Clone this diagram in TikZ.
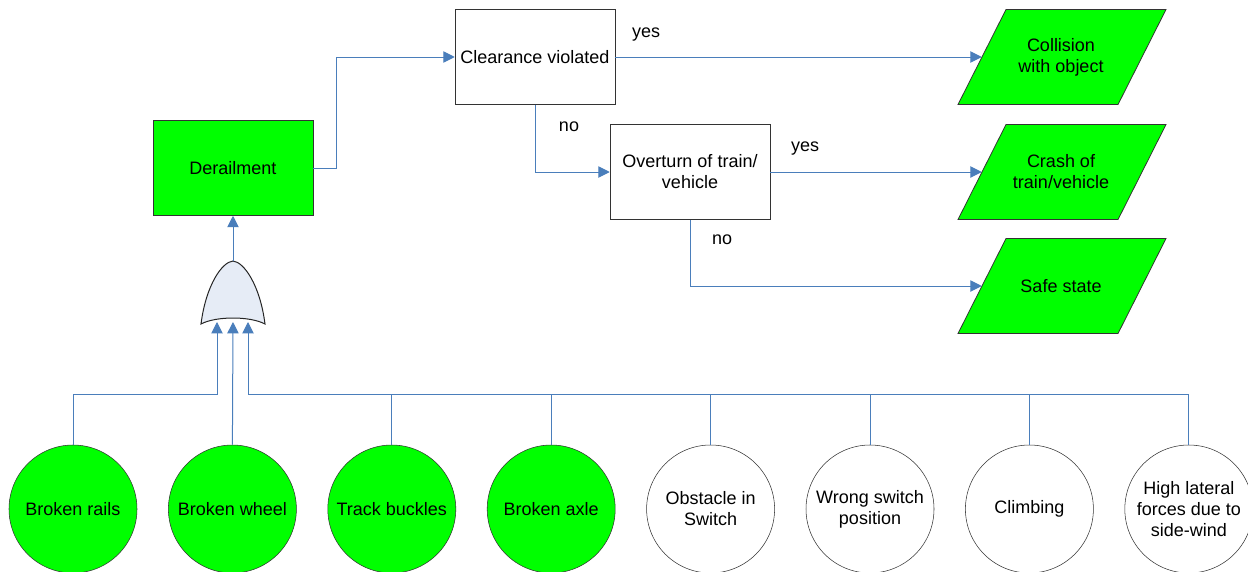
\documentclass[tikz,border=0pt]{standalone}
\usepackage{fontspec}
\setmainfont{Liberation Sans}
\usetikzlibrary{arrows.meta, backgrounds, positioning}
\definecolor{EventGreen}{HTML}{00FF00}
\definecolor{LineBlue}{HTML}{4A7EBB}
\definecolor{GateFill}{HTML}{E6ECF6}

\begin{document}
\begin{tikzpicture}[x=0.75pt, y=-0.75pt, on grid, node distance=119.55pt,
    font=\fontsize{13.5}{15.75}\selectfont,
    box/.style={rectangle, draw=black!80, fill=white, align=center, minimum width=120pt, minimum height=71.25pt, inner sep=0pt},
    cause/.style={circle, draw=black!80, fill=EventGreen, align=center, minimum size=96pt, inner sep=0pt},
    plain/.style={cause, fill=white},
    outcome/.style={rectangle, align=center, minimum width=118.5pt, minimum height=71.25pt, inner sep=0pt},
    slanted/.style={draw=black!80, fill=EventGreen, line width=0.6pt},
    line/.style={draw=LineBlue, line width=0.75pt},
    arr/.style={line, -{Triangle[length=8.5pt, width=8.5pt, fill=LineBlue]}}]

    \useasboundingbox (0,0) rectangle (1248,571);

    % top of the tree
    \node[box, fill=EventGreen] (D) at (233,168) {Derailment};
    \node[box] (C) at (535,57) {Clearance violated};
    \node[box] (O) at (690,172) {Overturn of train/\\vehicle};
    \node[outcome] (S1) at (1061,57) {Collision\\with object};
    \node[outcome] (S2) at (1061,172) {Crash of\\train/vehicle};
    \node[outcome] (S3) at (1061,286) {Safe state};
    \begin{scope}[on background layer]
        \foreach \s in {S1,S2,S3}
            \draw[slanted, shift={(\s.center)}]
                (-55,-47.5) -- (105,-47.5) -- (57,47.5) -- (-103,47.5) -- cycle;
    \end{scope}

    % basic events
    \node[cause] (E1) at (73,509) {Broken rails};
    \node[cause, right=of E1] (E2) {Broken wheel};
    \node[cause, right=of E2] (E3) {Track buckles};
    \node[cause, right=of E3] (E4) {Broken axle};
    \node[plain, right=of E4] (E5) {Obstacle in\\Switch};
    \node[plain, right=of E5] (E6) {Wrong switch\\position};
    \node[plain, right=of E6] (E7) {Climbing};
    \node[plain, right=of E7] (E8) {High lateral\\forces due to\\side-wind};

    % or gate
    \coordinate (G) at (233,300);
    \draw[black!85, fill=GateFill, line width=0.75pt, shift={(G)}]
        (-32,24) .. controls (-27,-15) and (-11,-38) .. (0,-39)
        .. controls (11,-38) and (27,-15) .. (32,24)
        .. controls (17,16) and (-17,16) .. (-32,24) -- cycle;
    \coordinate (Gt) at (233,261);
    \coordinate (G1) at (217,322);
    \coordinate (G2) at (233,322);
    \coordinate (G3) at (248,322);
    \coordinate (J1) at (217,394);
    \coordinate (J3) at (248,394);

    \draw[arr] (Gt) -- (D.south);
    \draw[arr] (E1.north) |- (J1) -- (G1);
    \draw[arr] (E2.north) -- (G2);
    \draw[arr] (J3) -- (G3);
    \foreach \e in {E3,E4,E5,E6,E7,E8}
        \draw[line] (\e.north) |- (J3);

    \draw[arr] (D.east) -- ++(23,0) |- (C.west);
    \draw[arr] (C.east) -- (S1.west);
    \draw[arr] (C.south) |- (O.west);
    \draw[arr] (O.east) -- (S2.west);
    \draw[arr] (O.south) |- (S3.west);

    \node (yes1) at (646,35) {yes};
    \node (no1) at (569,127) {no};
    \node (yes2) at (805,149) {yes};
    \node (no2) at (722,240) {no};

\end{tikzpicture}
\end{document}
